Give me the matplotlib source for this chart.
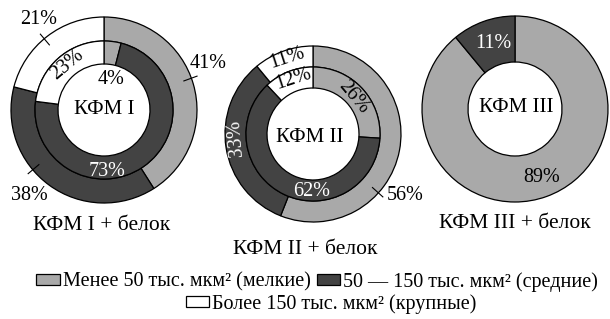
import matplotlib.pyplot as plt
from matplotlib.patches import Patch
import numpy as np

plt.rcParams['font.family'] = ['Liberation Serif', 'DejaVu Serif']

# size classes
classes = ['Менее 50 тыс. мкм² (мелкие)',
           '50 — 150 тыс. мкм² (средние)',
           'Более 150 тыс. мкм² (крупные)']
colors = ['#a9a9a9', '#434343', '#ffffff']

# shares, %
kfm1_outer = [41, 38, 21]   # КФМ I + белок
kfm1_inner = [4, 73, 23]    # КФМ I
kfm2_outer = [56, 33, 11]   # КФМ II + белок
kfm2_inner = [26, 62, 12]   # КФМ II
kfm3 = [89, 11]             # КФМ III (+ белок)

H = 319
fig = plt.figure(figsize=(6.1, 3.19), dpi=100)
ax = fig.add_axes([0, 0, 1, 1])

wp = dict(edgecolor='black', linewidth=0.9)


def ring(vals, cx, cy, r, w):
    ax.pie(vals, colors=colors[:len(vals)], startangle=90, counterclock=False,
           center=(cx, H - cy), radius=r, wedgeprops=dict(width=w, **wp),
           frame=True)


def txt(x, y, s, color='black', rot=0, size=14.5):
    ax.text(x, H - y, s, ha='center', va='center', color=color,
            rotation=rot, fontsize=size, rotation_mode='anchor')


def leader(cx, cy, r, ang):
    a = np.radians(ang)
    rr = np.array([r - 8, r + 6])
    ax.plot(cx + rr * np.cos(a), H - cy + rr * np.sin(a), color='black', lw=0.8)


# КФМ I
c1 = (104, 110)
ring(kfm1_outer, *c1, 93, 24)
ring(kfm1_inner, *c1, 69, 23)
txt(104, 109, 'КФМ I', size=15)
txt(208, 64, '41%')
leader(*c1, 93, 20)
txt(29, 195, '38%')
leader(*c1, 93, -140)
txt(39, 20, '21%')
leader(*c1, 93, 130)
txt(111, 79, '4%')
txt(67, 65, '23%', rot=40)
txt(107, 171, '73%', color='white')
txt(102, 226, 'КФМ I + белок', size=15.5)

# КФМ II
c2 = (313, 134)
ring(kfm2_outer, *c2, 88, 21)
ring(kfm2_inner, *c2, 67, 21)
txt(310, 137, 'КФМ II', size=15)
txt(287, 58, '11%', rot=18)
txt(293, 79, '12%', rot=18)
txt(353, 97, '26%', rot=-50)
txt(236, 138, '33%', color='white', rot=95)
txt(312, 191, '62%', color='white')
txt(405, 195, '56%')
leader(*c2, 88, -42)
txt(305, 250, 'КФМ II + белок', size=15.5)

# КФМ III
c3 = (515, 109)
ring(kfm3, *c3, 93, 46)
txt(516, 108, 'КФМ III', size=15)
txt(493, 44, '11%', color='white')
txt(542, 177, '89%')
txt(515, 224, 'КФМ III + белок', size=15.5)

ax.set_xlim(0, 610)
ax.set_ylim(0, H)
ax.set_aspect('equal')
ax.axis('off')

handles = [Patch(facecolor=c, edgecolor='black', linewidth=0.9) for c in colors]
leg_kw = dict(frameon=False, fontsize=14.5, handlelength=1.15, handleheight=0.5,
              handletextpad=0.15, borderpad=0, borderaxespad=0)
leg1 = ax.legend(handles[:2], classes[:2], ncol=2, loc='center',
                 bbox_to_anchor=(317 / 610, 1 - 282 / H), columnspacing=0.3,
                 **leg_kw)
ax.add_artist(leg1)
ax.legend(handles[2:], classes[2:], loc='center',
          bbox_to_anchor=(331 / 610, 1 - 304 / H), **leg_kw)

fig.savefig('out.png', dpi=100)
